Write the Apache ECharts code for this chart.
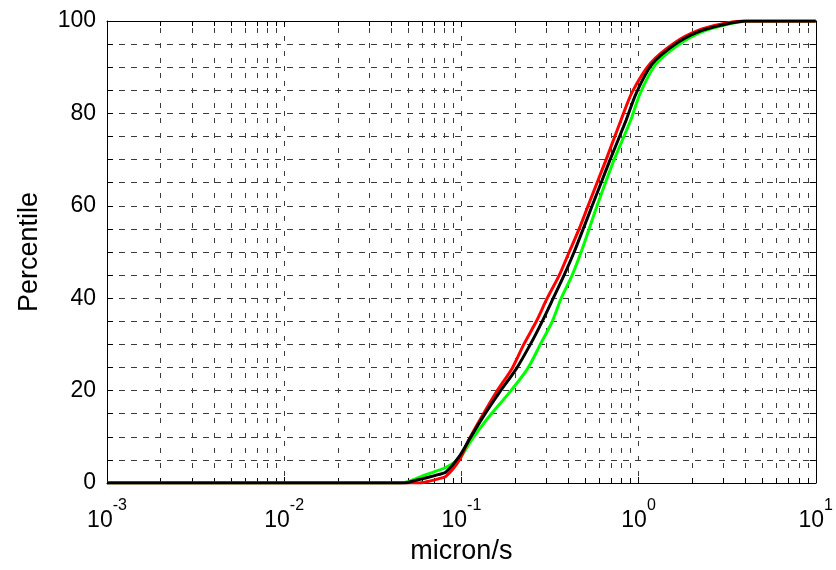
<!DOCTYPE html>
<html>
<head>
<meta charset="utf-8">
<script src="https://cdn.jsdelivr.net/npm/echarts@6/dist/echarts.min.js"></script>
<style>
html,body{margin:0;padding:0;background:#fff;}
#chart{width:836px;height:570px;}
</style>
</head>
<body>
<div id="chart"></div>
<script>
// ---- data (speed in micron/s, percentile) ----
const greenSpeed = [0.001, 0.045, 0.052, 0.06, 0.07, 0.082, 0.0975, 0.115, 0.14, 0.186, 0.236, 0.279, 0.326, 0.366, 0.422, 0.474, 0.526, 0.583, 0.650, 0.728, 0.9, 1.02, 1.25, 1.72, 2.3, 3.1, 4.2, 10];
const greenPct   = [0, 0, 0.5, 1.5, 2.4, 3.4, 5.3, 9.5, 13.9, 19.5, 24.7, 30, 35, 40, 45, 50, 55, 60, 65, 70, 78.4, 84.3, 90.6, 95.1, 97.7, 99.2, 100, 100];

const redSpeed = [0.001, 0.058, 0.066, 0.074, 0.082, 0.0975, 0.11, 0.13, 0.157, 0.194, 0.225, 0.265, 0.305, 0.357, 0.406, 0.462, 0.519, 0.583, 0.656, 0.80, 0.92, 1.17, 1.6, 2.15, 2.9, 3.9, 10];
const redPct   = [0, 0, 0.4, 0.9, 1.5, 5.0, 9.3, 14.3, 19.6, 24.9, 30, 35, 40, 45, 50, 55, 60, 65, 70, 78.8, 84.6, 90.9, 95.3, 97.9, 99.3, 100, 100];

const blackSpeed = [0.001, 0.048, 0.053, 0.06, 0.066, 0.074, 0.082, 0.0975, 0.11, 0.131, 0.164, 0.204, 0.245, 0.286, 0.33, 0.380, 0.433, 0.487, 0.547, 0.615, 0.691, 0.85, 0.968, 1.19, 1.63, 2.19, 2.95, 4.0, 10];
const blackPct   = [0, 0, 0.4, 0.9, 1.3, 1.8, 2.4, 5.8, 9.2, 14.0, 19.6, 24.7, 30, 35, 40, 45, 50, 55, 60, 65, 70, 78.5, 84.3, 90.6, 95.1, 97.7, 99.1, 100, 100];

// ---- axis ticks ----
const decadeStarts = [0.001, 0.01, 0.1, 1];
const mantissas = [2, 3, 4, 5, 6, 7, 8, 9];
const yLabelValues = [0, 20, 40, 60, 80, 100];

const minorTicks = [];
decadeStarts.forEach(d => mantissas.forEach(m => minorTicks.push([d * m, 0])));

const pairs = (xs, ys) => xs.map((x, i) => [x, ys[i]]);

const FONT = 'Liberation Sans, Arial, sans-serif';
const GRID_COLOR = '#3a3a3a';

const chart = echarts.init(document.getElementById('chart'), null, {renderer: 'canvas'});

const option = {
  animation: false,
  backgroundColor: '#ffffff',
  grid: {left: 107, right: 19, top: 21, bottom: 82, containLabel: false},
  xAxis: [
    {
      type: 'log', logBase: 10, min: 0.001, max: 10, interval: 1,
      position: 'bottom',
      name: 'micron/s', nameLocation: 'middle', nameGap: 55,
      nameTextStyle: {fontFamily: FONT, fontSize: 27, color: '#000'},
      axisLine: {show: true, onZero: false, lineStyle: {color: '#000', width: 1}},
      axisTick: {show: true, inside: true, length: 6, lineStyle: {color: '#000'}},
      axisLabel: {
        margin: 15,
        formatter: function (v) {
          const e = Math.round(Math.log10(v));
          return '{b|10}{s|' + e + '}';
        },
        rich: {
          b: {fontFamily: FONT, fontSize: 23, color: '#000', lineHeight: 34, verticalAlign: 'bottom'},
          s: {fontFamily: FONT, fontSize: 16, color: '#000', lineHeight: 15, verticalAlign: 'top'}
        }
      },
      splitLine: {show: true, lineStyle: {color: GRID_COLOR, width: 1, type: [5, 10]}}
    },
    {
      type: 'log', logBase: 10, min: 0.001, max: 10, interval: 1,
      position: 'top',
      axisLine: {show: true, onZero: false, lineStyle: {color: '#000', width: 1}},
      axisTick: {show: true, inside: true, length: 6, lineStyle: {color: '#000'}},
      axisLabel: {show: false},
      splitLine: {show: false}
    }
  ],
  yAxis: [
    {
      type: 'value', min: 0, max: 100, interval: 5,
      position: 'left',
      name: 'Percentile', nameLocation: 'middle', nameGap: 64,
      nameTextStyle: {fontFamily: FONT, fontSize: 27, color: '#000', padding: [0, 0, 0, 0]},
      axisLine: {show: true, onZero: false, lineStyle: {color: '#000', width: 1}},
      axisTick: {show: true, inside: true, length: 6, lineStyle: {color: '#000'}},
      axisLabel: {
        margin: 11, fontFamily: FONT, fontSize: 23, color: '#000',
        formatter: v => (yLabelValues.indexOf(v) >= 0 ? String(v) : '')
      },
      splitLine: {show: true, lineStyle: {color: GRID_COLOR, width: 1, type: [6, 6]}}
    },
    {
      type: 'value', min: 0, max: 100, interval: 5,
      position: 'right',
      axisLine: {show: true, onZero: false, lineStyle: {color: '#000', width: 1}},
      axisTick: {show: true, inside: true, length: 6, lineStyle: {color: '#000'}},
      axisLabel: {show: false},
      splitLine: {show: false}
    }
  ],
  series: [
    {
      type: 'custom',
      xAxisIndex: 0, yAxisIndex: 0,
      silent: true, z: 0,
      clip: false,
      data: minorTicks,
      encode: {x: 0, y: 1},
      renderItem: function (params, api) {
        const v = api.value(0);
        const p0 = api.coord([v, 0]);
        const p1 = api.coord([v, 100]);
        const x = Math.round(p0[0]) + 0.5;
        return {
          type: 'group',
          children: [
            {type: 'line', shape: {x1: x, y1: p0[1], x2: x, y2: p1[1]},
             style: {stroke: GRID_COLOR, lineWidth: 1, lineDash: [5, 10]}},
            {type: 'line', shape: {x1: x, y1: p0[1], x2: x, y2: p0[1] - 5},
             style: {stroke: '#000', lineWidth: 1}},
            {type: 'line', shape: {x1: x, y1: p1[1], x2: x, y2: p1[1] + 5},
             style: {stroke: '#000', lineWidth: 1}}
          ]
        };
      }
    },
    {
      name: 'green', type: 'line', data: pairs(greenSpeed, greenPct),
      symbol: 'none', smooth: 0.25, z: 3,
      lineStyle: {color: '#00ff00', width: 3}, itemStyle: {color: '#00ff00'}
    },
    {
      name: 'red', type: 'line', data: pairs(redSpeed, redPct),
      symbol: 'none', smooth: 0.25, z: 4,
      lineStyle: {color: '#ff0000', width: 3}, itemStyle: {color: '#ff0000'}
    },
    {
      name: 'black', type: 'line', data: pairs(blackSpeed, blackPct),
      symbol: 'none', smooth: 0.25, z: 5,
      lineStyle: {color: '#000000', width: 3}, itemStyle: {color: '#000000'}
    }
  ]
};

chart.setOption(option);
</script>
</body>
</html>
